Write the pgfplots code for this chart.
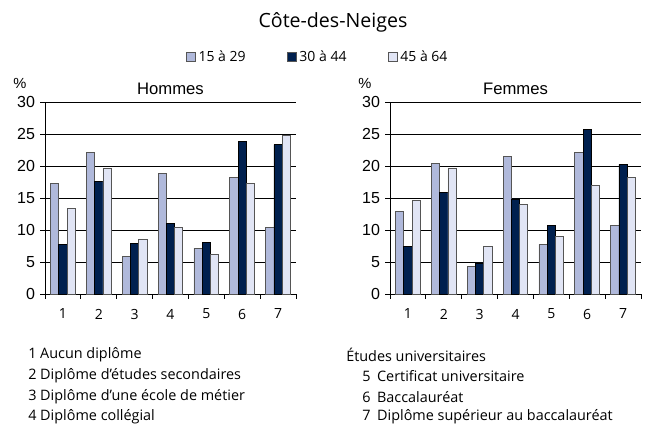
\documentclass[border=0pt]{standalone}
\usepackage{fontspec}
\setmainfont{Open Sans}
\newfontfamily\arial{Liberation Sans}
\usepackage{pgfplots}
\pgfplotsset{compat=1.18}

\definecolor{cA}{HTML}{B0B9DB}
\definecolor{cB}{HTML}{00204F}
\definecolor{cC}{HTML}{E1E5F5}
\definecolor{bd}{HTML}{555555}

\pgfplotstableread{
g a b c
1 17.3 7.8 13.4
2 22.2 17.6 19.6
3 5.9 7.9 8.5
4 18.9 11.1 10.4
5 7.2 8.1 6.2
6 18.3 23.9 17.3
7 10.4 23.4 24.8
}\hommes
\pgfplotstableread{
g a b c
1 13.0 7.5 14.7
2 20.5 15.9 19.6
3 4.3 4.9 7.5
4 21.5 14.9 14.1
5 7.8 10.7 9.1
6 22.2 25.8 17.0
7 10.7 20.3 18.3
}\femmes

\pgfplotsset{
 mystyle/.style={
  scale only axis, width=188.25pt, height=144pt,
  xmin=0.5, xmax=7.5, ymin=0, ymax=30,
  clip=false,
  axis x line=bottom, axis y line=left,
  axis line style={-, black, line width=0.6pt},
  ytick={0,5,...,30}, ymajorgrids, grid style={black, line width=0.5pt},
  xtick={1,...,7},
  tick align=outside,
  major tick length=3.5pt,
  x tick style={draw=none},
  y tick style={black, line width=0.6pt},
  extra x ticks={0.5,1.5,...,7.5},
  extra x tick labels={},
  extra x tick style={x tick style={draw=black, line width=0.6pt}},
  /pgf/number format/assume math mode=true,
  yticklabel style={font=\arial\fontsize{12}{13}\selectfont, xshift=-0.5pt},
  xticklabel style={font=\fontsize{10.5}{12}\selectfont, yshift=-4pt},
  ybar, bar width=0.23,
  title style={font=\arial\fontsize{12.5}{14}\selectfont, at={(0.5,1)}, anchor=south, yshift=-3.5pt},
 },
 every axis plot/.append style={draw=bd, line width=0.6pt},
}

\begin{document}
\begin{tikzpicture}
\useasboundingbox (0pt,0pt) rectangle (486.75pt,320.25pt);

\begin{axis}[mystyle, at={(33.75pt,99.525pt)}, anchor=south west, title={Hommes},
  legend style={at={(axis description cs:1.088,1.236)}, anchor=center, draw=none,
    font=\fontsize{10.5}{12}\selectfont, legend columns=3,
    /tikz/every even column/.append style={column sep=29pt}},
  legend image code/.code={\draw[#1, draw=bd, line width=0.6pt] (0pt,-3.4pt) rectangle (6.8pt,3.4pt);},
]
\addplot[fill=cA, bar shift=-0.23] table[x=g, y=a] {\hommes};
\addplot[fill=cB, draw=black, bar shift=0] table[x=g, y=b] {\hommes};
\addplot[fill=cC, bar shift=0.23] table[x=g, y=c] {\hommes};
\legend{15 à 29, 30 à 44, 45 à 64}
\node[font=\arial\fontsize{11}{12}\selectfont] at (axis description cs:-0.1,1.1) {\%};
\end{axis}

\begin{axis}[mystyle, at={(292.5pt,99.525pt)}, anchor=south west, title={Femmes}]
\addplot[fill=cA, bar shift=-0.23] table[x=g, y=a] {\femmes};
\addplot[fill=cB, draw=black, bar shift=0] table[x=g, y=b] {\femmes};
\addplot[fill=cC, bar shift=0.23] table[x=g, y=c] {\femmes};
\node[font=\arial\fontsize{11}{12}\selectfont] at (axis description cs:-0.1,1.1) {\%};
\end{axis}

\node[font=\fontsize{14.7}{16}\selectfont] at (249.75pt,303.75pt) {Côte-des-Neiges};

\begin{scope}[every node/.style={anchor=west, font=\fontsize{10.8}{12}\selectfont, inner sep=0pt}]
\node at (21pt,54pt) {1 Aucun diplôme};
\node at (21pt,38.25pt) {2 Diplôme d’études secondaires};
\node at (21pt,22.5pt) {3 Diplôme d’une école de métier};
\node at (21pt,7.5pt) {4 Diplôme collégial};
\node at (259.5pt,54pt) {Études universitaires};
\node at (271.5pt,38.25pt) {5\hspace{5pt}Certificat universitaire};
\node at (271.5pt,22.5pt) {6\hspace{5pt}Baccalauréat};
\node at (271.5pt,7.5pt) {7\hspace{5pt}Diplôme supérieur au baccalauréat};
\end{scope}
\end{tikzpicture}
\end{document}
